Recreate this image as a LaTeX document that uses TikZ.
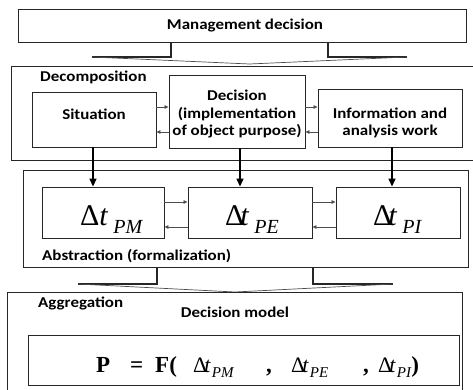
\documentclass[tikz,border=0pt]{standalone}
\usepackage{fontspec}
\newfontfamily\lab[FakeStretch=1.13]{Carlito}
\newfontfamily\tms{Liberation Serif}
\usetikzlibrary{arrows.meta}
\newcommand\bigdt[2]{{\tms\mdseries\fontsize{30}{30}\selectfont Δ\kern#2\textit{t}}\kern5pt\raisebox{-8pt}{\tms\mdseries\itshape\fontsize{20}{20}\selectfont #1}}
\newcommand\smdt[2]{{\tms\mdseries\fontsize{22}{22}\selectfont Δ\kern#2\textit{t}}\kern1pt\raisebox{-5pt}{\tms\mdseries\itshape\fontsize{15}{15}\selectfont #1}}
\tikzset{
  box/.style={draw=black!85, line width=0.9pt, inner sep=0pt},
  lbl/.style={font=\lab\bfseries\fontsize{15}{17.5}\selectfont, inner sep=0pt, align=center},
  thickarrow/.style={line width=1.4pt, -{Triangle[length=8pt,width=7pt]}},
  smallarrow/.style={draw=black!70, line width=0.7pt, -{Triangle[length=4pt,width=3.5pt]}},
  fork/.style={line width=1.2pt, black!85},
  slope/.style={line width=0.7pt, black!70},
  fml/.style={inner sep=0pt, anchor=base west, font=\tms\bfseries\fontsize{23}{23}\selectfont},
}
\begin{document}
\begin{tikzpicture}[x=1pt,y=-1pt]
\useasboundingbox (0,0) rectangle (473,389);
% top box
\node[box, minimum width=448, minimum height=33] (mgmt) at (242,25.5) {};
\node[lbl] (mgmtt) at (245,26) {Management decision};
% fork 1
\coordinate (f1l) at (92,57);
\coordinate (f1r) at (407,57);
\coordinate (f1t) at (249.5,64);
\draw[fork] (f1l) -- (171,57) -- (171,42) (328,42) -- (328,57) -- (f1r);
\draw[slope] (f1l) -- (f1t) -- (f1r);
% decomposition
\draw[box] (475,66) -- (11,66) -- (11,160.5) -- (475,160.5);
\node[lbl, anchor=west] (decl) at (40,77) {Decomposition};
\node[box, minimum width=124, minimum height=55] (sit) at (94,119.5) {};
\node[lbl] (sitt) at (94,114) {Situation};
\node[box, minimum width=136, minimum height=73] (dec) at (237,111.5) {};
\node[lbl] (dect) at (237,114) {Decision\\(implementation\\of object purpose)};
\node[box, minimum width=144, minimum height=58] (inf) at (390,118) {};
\node[lbl] (inft) at (390,123) {Information and\\analysis work};
\draw[smallarrow] (sit.east |- 0,107) -- (dec.west |- 0,107);
\draw[smallarrow] (dec.east |- 0,107) -- (inf.west |- 0,107);
\draw[smallarrow] (inf.west |- 0,132) -- (dec.east |- 0,132);
\draw[smallarrow] (dec.west |- 0,132) -- (sit.east |- 0,132);
% abstraction
\draw[box] (23,170) rectangle (468,267);
\node[box, minimum width=122, minimum height=51] (pm) at (103,212.5) {};
\node[box, minimum width=124, minimum height=51] (pe) at (250,212.5) {};
\node[box, minimum width=124, minimum height=51] (pi) at (398,212.5) {};
\node[inner sep=0pt, anchor=base west] (pmt) at (80,225) {\bigdt{PM}{0pt}};
\node[inner sep=0pt, anchor=base west] (pet) at (225,225) {\bigdt{PE}{-4pt}};
\node[inner sep=0pt, anchor=base west] (pit) at (373,225) {\bigdt{PI}{-4pt}};
\draw[thickarrow] (sit.south -| 93,0) -- (pm.north -| 93,0);
\draw[thickarrow] (dec.south -| 240,0) -- (pe.north -| 240,0);
\draw[thickarrow] (inf.south -| 392,0) -- (pi.north -| 392,0);
\draw[smallarrow] (pm.east |- 0,202) -- (pe.west |- 0,202);
\draw[smallarrow] (pe.east |- 0,202) -- (pi.west |- 0,202);
\draw[smallarrow] (pi.west |- 0,227) -- (pe.east |- 0,227);
\draw[smallarrow] (pe.west |- 0,227) -- (pm.east |- 0,227);
\node[lbl, anchor=west] (absl) at (42,256) {Abstraction (formalization)};
% fork 2
\coordinate (f2l) at (78,284);
\coordinate (f2r) at (393,284);
\coordinate (f2t) at (235,292);
\draw[fork] (f2l) -- (157,284) -- (157,267) (313,267) -- (313,284) -- (f2r);
\draw[slope] (f2l) -- (f2t) -- (f2r);
% aggregation
\draw[box] (7,392) -- (7,292) -- (462,292) -- (462,392);
\node[lbl, anchor=west] (aggl) at (38,303) {Aggregation};
\node[lbl] (dml) at (235,312) {Decision model};
\node[box, minimum width=431, minimum height=50] (fbox) at (243.5,360) {};
\node[fml] (fP) at (96,372) {P};
\node[fml] (fEq) at (130,372) {=};
\node[fml] (fF) at (155,372) {F(};
\node[fml] (fa) at (193,372) {\smdt{PM}{-3pt}};
\node[fml] (fc1) at (266,372) {,};
\node[fml] (fb) at (291,372) {\smdt{PE}{-3pt}};
\node[fml] (fc2) at (363,372) {,};
\node[fml] (fc) at (378,372) {\smdt{PI}{-3pt}};
\node[fml, anchor=base west] (fcl) at (fc.base east) {)};
\end{tikzpicture}
\end{document}
